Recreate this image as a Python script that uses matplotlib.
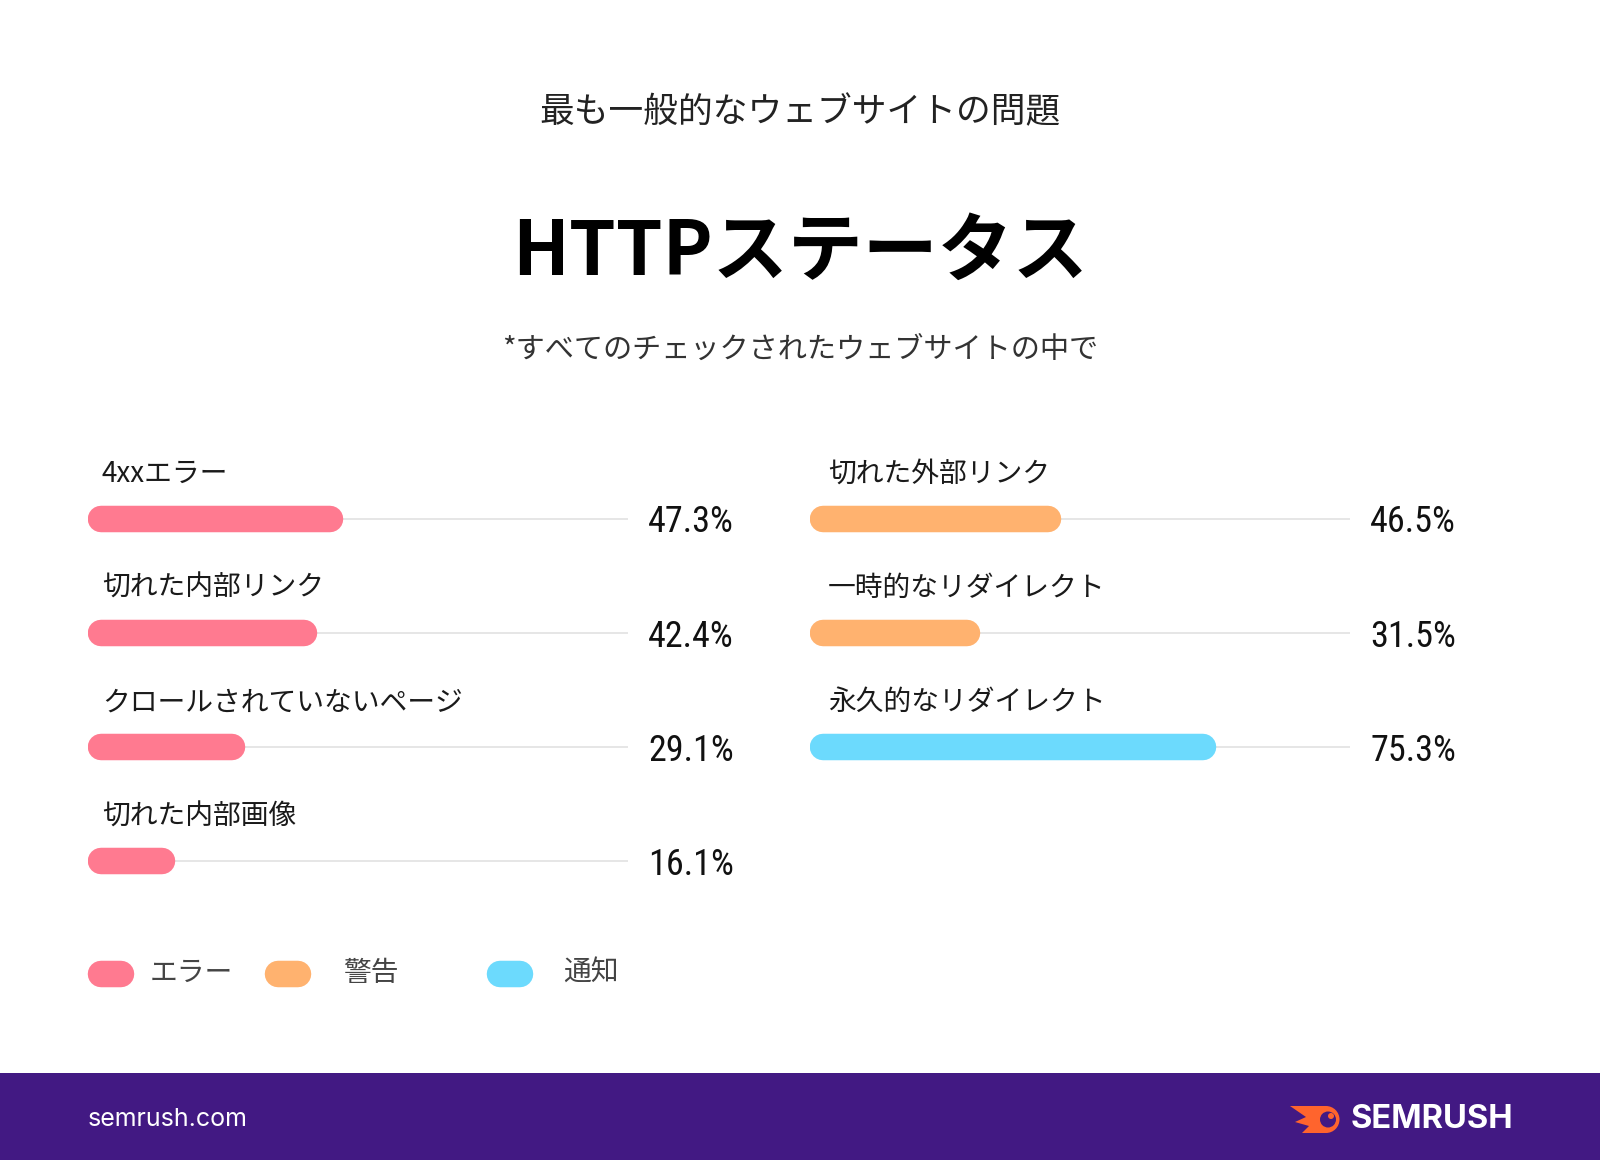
import matplotlib
matplotlib.use('Agg')
import matplotlib.pyplot as plt
from matplotlib import font_manager as fm
from matplotlib.patches import Circle, Polygon, Rectangle
import matplotlib.transforms as mtransforms

# ---------------- data ----------------
left_labels = ['4xxエラー', '切れた内部リンク', 'クロールされていないページ', '切れた内部画像']
left_values = [47.3, 42.4, 29.1, 16.1]
left_types = ['error', 'error', 'error', 'error']

right_labels = ['切れた外部リンク', '一時的なリダイレクト', '永久的なリダイレクト']
right_values = [46.5, 31.5, 75.3]
right_types = ['warning', 'warning', 'notice']

legend_labels = ['エラー', '警告', '通知']
legend_types = ['error', 'warning', 'notice']

title_top = '最も一般的なウェブサイトの問題'
title_main = 'HTTPステータス'
subtitle = '*すべてのチェックされたウェブサイトの中で'
footer_site = 'semrush.com'
footer_brand = 'SEMRUSH'

colors = {'error': '#FF7A90', 'warning': '#FFB26F', 'notice': '#6CDAFD'}
TRACK = '#E6E6E6'
PURPLE = '#421983'
ORANGE = '#FF642D'


def has_font(name):
    try:
        fm.findfont(fm.FontProperties(family=name), fallback_to_default=False)
        return True
    except Exception:
        return False


JP = ['Noto Sans CJK JP', 'DejaVu Sans']
if has_font('Liberation Sans Narrow'):
    NUM, NUM_SIZE = 'Liberation Sans Narrow', 26
elif has_font('Roboto Condensed'):
    NUM, NUM_SIZE = 'Roboto Condensed', 26
else:
    NUM, NUM_SIZE = 'Roboto', 24
LATIN = 'Inter' if has_font('Inter') else 'Noto Sans'

W, H = 1600, 1160
fig = plt.figure(figsize=(16, 11.6), dpi=100)
fig.patch.set_facecolor('white')

# overlay axes in pixel coordinates for page furniture
bg = fig.add_axes([0, 0, 1, 1], zorder=0)
bg.set_xlim(0, W)
bg.set_ylim(H, 0)
bg.axis('off')

bg.text(800, 113, title_top, ha='center', va='center', fontsize=25,
        family=JP, color='#222222')
bg.text(800, 253, title_main, ha='center', va='center', fontsize=54,
        family=JP, weight='bold', color='#000000')
bg.text(800, 350, subtitle, ha='center', va='center', fontsize=21,
        family=JP, color='#333333')

# footer
bg.add_patch(Rectangle((0, 1073), W, H - 1073, color=PURPLE, lw=0))
bg.text(88, 1120, footer_site, ha='left', va='center', fontsize=18,
        family=LATIN, color='white')
bg.text(1513, 1120, footer_brand, ha='right', va='center', fontsize=23.5,
        family=LATIN, weight='bold', color='white')
# logo mark
bg.add_patch(Polygon([(1290, 1106), (1326, 1106), (1326, 1133), (1302, 1133),
                      (1309, 1126), (1295, 1122), (1306, 1117)],
                     closed=True, color=ORANGE, lw=0))
bg.add_patch(Circle((1326, 1119.5), 13.5, color=ORANGE, lw=0))
bg.add_patch(Circle((1328, 1119.5), 8, color=PURPLE, lw=0))
bg.add_patch(Circle((1331, 1116), 3, color=ORANGE, lw=0))

# legend
leg_x = [88, 265, 487]
leg_tx = [150, 343, 563]
for lx, tx, lab, t in zip(leg_x, leg_tx, legend_labels, legend_types):
    r = 13.2
    bg.plot([lx + r, lx + 46 - r], [974, 974], color=colors[t],
            lw=26.5 * 0.72, solid_capstyle='round')
    bg.text(tx, 973, lab, ha='left', va='center', fontsize=20,
            family=JP, color='#444444')

# ---------------- bar panels ----------------
ROW_TOP = 518.5
ROW_STEP = 114.3
BAR_H = 26.5
PANEL_W = 540.0


def panel(x0, labels, values, types, label_dx, value_dx):
    top = ROW_TOP - ROW_STEP / 2
    bottom = top + 4 * ROW_STEP
    ax = fig.add_axes([x0 / W, 1 - bottom / H, PANEL_W / W, 4 * ROW_STEP / H],
                      zorder=1)
    ax.set_xlim(0, 100)
    ax.set_ylim(3.5, -0.5)
    ax.axis('off')
    r = (BAR_H / 2) / PANEL_W * 100
    lw = BAR_H * 0.72
    lab_tr = mtransforms.offset_copy(ax.transData, fig=fig, x=label_dx, y=45,
                                     units='dots')
    val_tr = mtransforms.offset_copy(ax.transData, fig=fig, x=value_dx, y=-4,
                                     units='dots')
    for i, (lab, v, t) in enumerate(zip(labels, values, types)):
        ax.plot([0, 100], [i, i], color=TRACK, lw=1.4, solid_capstyle='butt',
                zorder=1)
        ax.plot([r, v - r], [i, i], color=colors[t], lw=lw,
                solid_capstyle='round', zorder=2)
        ax.text(0, i, lab, transform=lab_tr, ha='left', va='center',
                fontsize=20, family=JP, color='#1A1A1A')
        ax.text(100, i, f'{v:.1f}%', transform=val_tr, ha='left', va='center',
                fontsize=NUM_SIZE, family=NUM, color='#111111')
    return ax


panel(88, left_labels, left_values, left_types, 14, 20)
panel(810, right_labels, right_values, right_types, 18, 20)

fig.savefig('out.png', dpi=100, facecolor='white')
